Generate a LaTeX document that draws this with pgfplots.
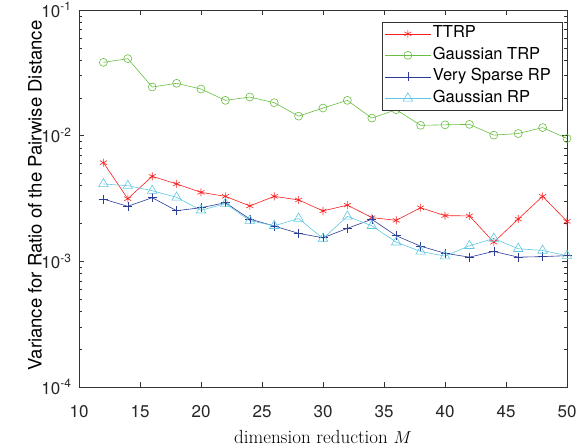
\documentclass[border=0pt]{standalone}
\usepackage{pgfplots}
\pgfplotsset{compat=1.18}
\usepackage{fontspec}
\newfontfamily\heros{TeX Gyre Heros}
\definecolor{cRed}{RGB}{250,30,30}
\definecolor{cGreen}{RGB}{105,190,65}
\definecolor{cBlue}{RGB}{45,60,150}
\definecolor{cCyan}{RGB}{95,200,225}

\pgfplotstableread{
M ttrp gtrp vsrp grp
12 6.1e-3 3.83e-2 3.13e-3 4.13e-3
14 3.15e-3 4.10e-2 2.74e-3 4.00e-3
16 4.75e-3 2.44e-2 3.21e-3 3.65e-3
18 4.13e-3 2.61e-2 2.53e-3 3.23e-3
20 3.54e-3 2.35e-2 2.67e-3 2.55e-3
22 3.29e-3 1.91e-2 2.93e-3 2.88e-3
24 2.76e-3 2.03e-2 2.17e-3 2.11e-3
26 3.29e-3 1.83e-2 1.91e-3 1.92e-3
28 3.08e-3 1.43e-2 1.67e-3 2.19e-3
30 2.52e-3 1.66e-2 1.54e-3 1.52e-3
32 2.80e-3 1.91e-2 1.83e-3 2.28e-3
34 2.23e-3 1.38e-2 2.16e-3 1.92e-3
36 2.12e-3 1.61e-2 1.60e-3 1.42e-3
38 2.67e-3 1.21e-2 1.32e-3 1.20e-3
40 2.31e-3 1.22e-2 1.16e-3 1.10e-3
42 2.30e-3 1.23e-2 1.08e-3 1.33e-3
44 1.42e-3 1.01e-2 1.20e-3 1.52e-3
46 2.17e-3 1.04e-2 1.08e-3 1.26e-3
48 3.29e-3 1.16e-2 1.09e-3 1.22e-3
50 2.08e-3 0.95e-2 1.11e-3 1.11e-3
}\datatable

\begin{document}
\begin{tikzpicture}
\begin{axis}[
  name=ax,
  scale only axis, width=488pt, height=377pt,
  ymode=log, xmin=10, xmax=50, ymin=1e-4, ymax=1e-1,
  xtick={10,15,...,50},
  ytick={1e-4,1e-3,1e-2,1e-1},
  yticklabels={10\textsuperscript{-4},10\textsuperscript{-3},10\textsuperscript{-2},10\textsuperscript{-1}},
  /pgf/number format/assume math mode=true,
  tick label style={font=\heros\fontsize{17}{17}\selectfont, black!85},
  xticklabel style={anchor=base, yshift=-30pt},
  yticklabel style={anchor=east, xshift=-4pt},
  xlabel={\fontsize{19}{20}\selectfont dimension reduction $M$},
  xlabel style={at={(rel axis cs:0.5,0)}, anchor=base, yshift=-56pt},
  ylabel={\heros\fontsize{18.5}{19}\selectfont Variance for Ratio of the Pairwise Distance},
  ylabel style={at={(rel axis cs:0,0.5)}, anchor=center, yshift=44pt, xshift=3pt},
  axis line style={black!80, line width=0.5pt},
  tick style={black!80, line width=0.5pt},
  major tick length=5pt, minor tick length=3pt,
  legend cell align=left,
  legend style={at={(rel axis cs:0.9898,0.968)}, anchor=north east,
    font=\heros\fontsize{16.5}{17}\selectfont, draw=black!80, line width=0.5pt,
    inner xsep=3pt, inner ysep=2pt, row sep=2.5pt,
    nodes={inner sep=2pt, text height=11.5pt, text depth=3.5pt}},
  legend image code/.code={\draw[mark repeat=2,mark phase=2] plot coordinates {(0cm,0cm) (0.8cm,0cm) (1.6cm,0cm)};},
]
\addplot[cRed, line width=0.6pt, mark=asterisk, mark size=4pt] table[x=M,y=ttrp] {\datatable};
\addlegendentry{TTRP}
\addplot[cGreen, line width=0.6pt, mark=o, mark size=4pt] table[x=M,y=gtrp] {\datatable};
\addlegendentry{Gaussian TRP}
\addplot[cBlue, line width=0.6pt, mark=+, mark size=4.5pt] table[x=M,y=vsrp] {\datatable};
\addlegendentry{Very Sparse RP\hspace*{6pt}}
\addplot[cCyan, line width=0.6pt, mark=triangle, mark size=5.5pt] table[x=M,y=grp] {\datatable};
\addlegendentry{Gaussian RP}
\end{axis}
\pgfresetboundingbox
\path ([xshift=-79pt,yshift=-60pt]ax.south west) rectangle ([xshift=14pt,yshift=10pt]ax.north east);
\end{tikzpicture}
\end{document}
